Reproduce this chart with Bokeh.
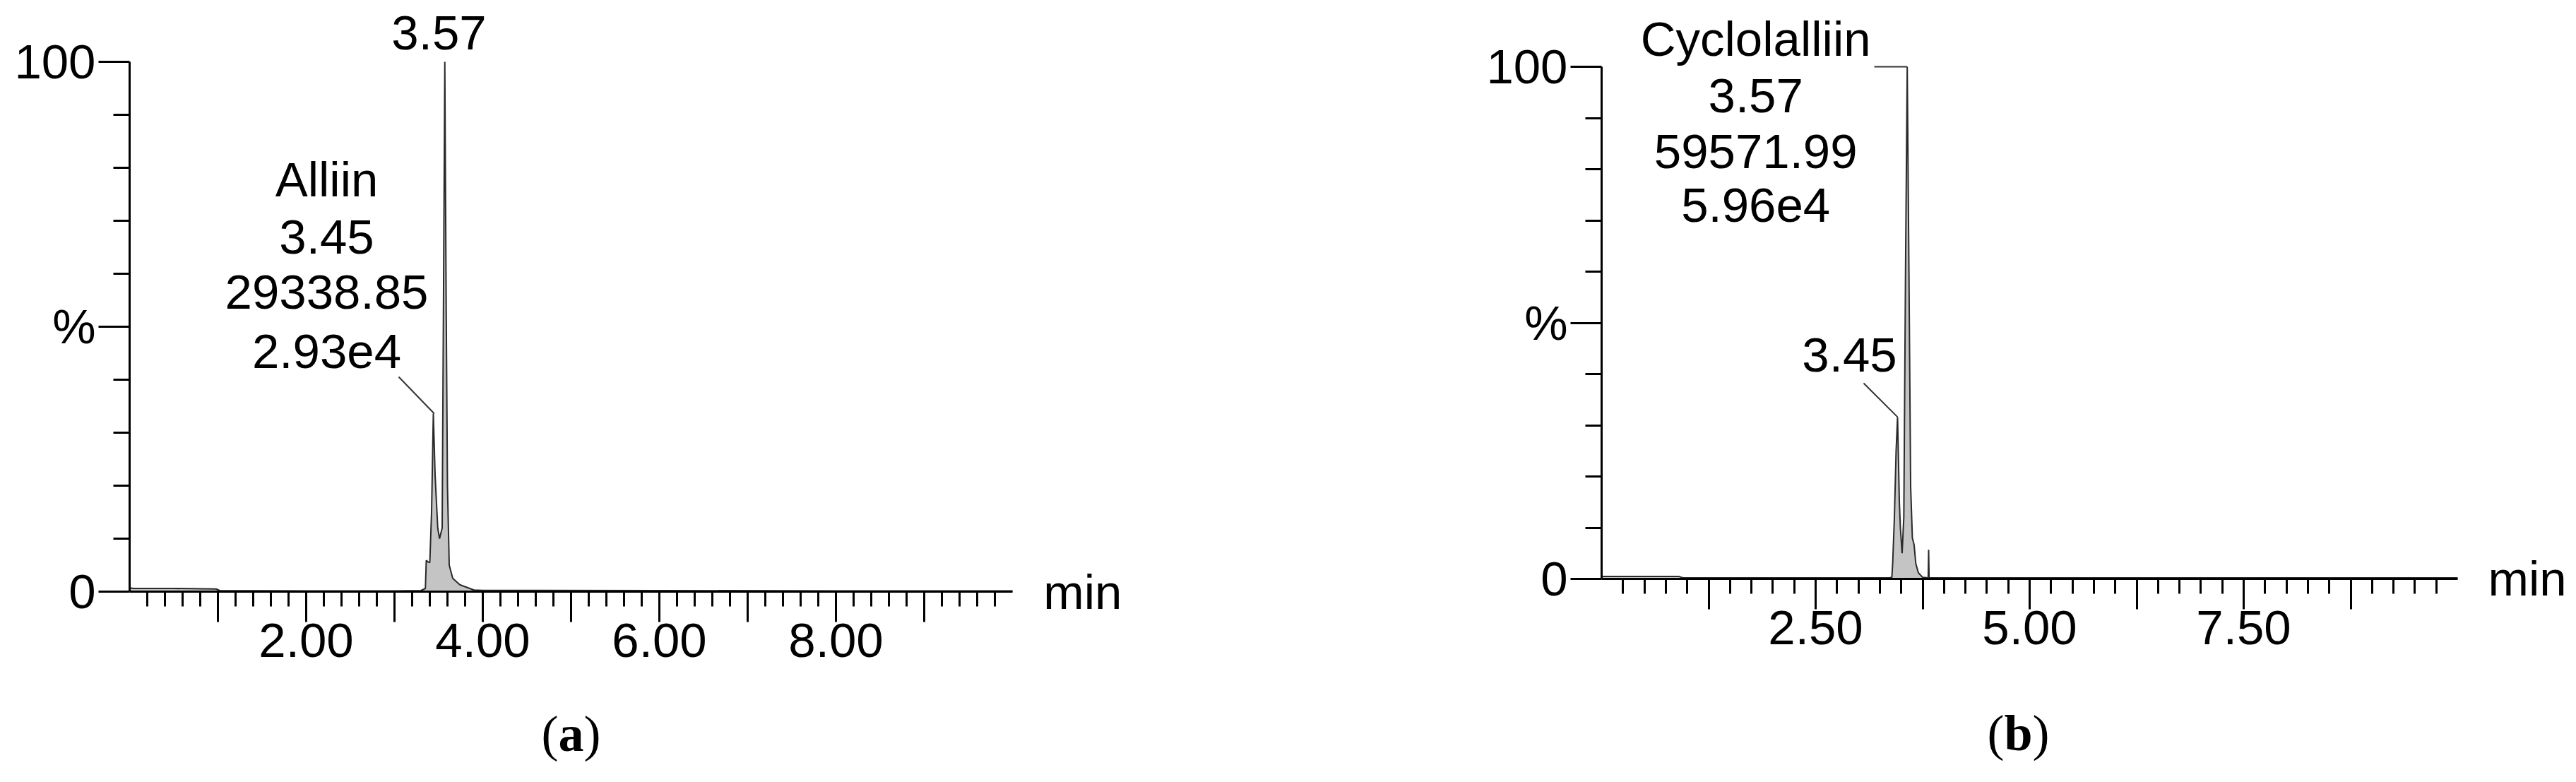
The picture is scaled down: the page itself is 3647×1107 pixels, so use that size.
from bokeh.plotting import figure
from bokeh.models import FixedTicker, Label
from bokeh.layouts import row
from bokeh.embed import file_html
from bokeh.resources import INLINE

SANS = "Liberation Sans"
SERIF = "Liberation Serif"
FS = "69px"

# ---------------- data ----------------
# Panel (a): relative intensity (%) vs retention time (min)
time_a = [0.00, 0.05, 0.50, 0.98, 1.02, 2.00, 3.00, 3.30, 3.35, 3.36, 3.38, 3.40, 3.42,
          3.44, 3.46, 3.49, 3.51, 3.54, 3.555, 3.57, 3.585, 3.60, 3.62, 3.66, 3.74,
          3.90, 4.00, 6.00, 8.00, 10.00]
int_a = [0.7, 0.6, 0.6, 0.5, 0.2, 0.15, 0.15, 0.2, 0.6, 5.9, 5.6, 5.5, 15,
         33.6, 22, 12, 10, 12, 55, 100, 55, 20, 5, 2.5, 1.3,
         0.3, 0.25, 0.2, 0.15, 0.15]

# Panel (b)
time_b = [0.00, 0.90, 0.95, 2.00, 3.36, 3.39, 3.40, 3.42, 3.44, 3.457, 3.478, 3.49, 3.51,
          3.53, 3.55, 3.57, 3.59, 3.61, 3.63, 3.65, 3.67, 3.70, 3.75, 3.815, 3.82,
          3.825, 4.00, 10.00]
int_b = [0.5, 0.5, 0.2, 0.2, 0.2, 0.3, 3, 12, 25, 31.6, 15, 10, 5,
         12, 60, 100, 60, 18, 8, 6.7, 3, 1.2, 0.3, 0.2, 5.7,
         0.2, 0.2, 0.2]

# axis tick labels
x_labels_a = {2: "2.00", 4: "4.00", 6: "6.00", 8: "8.00"}
x_labels_b = {2.5: "2.50", 5.0: "5.00", 7.5: "7.50"}
y_labels = {0: "0", 50: "%", 100: "100"}

# peak annotations
ann_a_lines = ["Alliin", "3.45", "29338.85", "2.93e4"]
ann_a_top = "3.57"
ann_b_lines = ["Cyclolalliin", "3.57", "59571.99", "5.96e4"]
ann_b_side = "3.45"
captions = ["a", "b"]


def style_axes(p, major_x, minor_x, xlabels):
    xa = p.xaxis[0]
    ya = p.yaxis[0]
    xa.fixed_location = 0
    ya.fixed_location = 0
    xa.ticker = FixedTicker(ticks=major_x, minor_ticks=minor_x)
    xa.major_label_overrides = {t: xlabels.get(t, "") for t in major_x}
    xa.bounds = (0, 10)
    ya.ticker = FixedTicker(ticks=[0, 50, 100], minor_ticks=[10, 20, 30, 40, 60, 70, 80, 90])
    ya.major_label_overrides = {k: v for k, v in y_labels.items()}
    ya.bounds = (0, 100)
    for ax in (xa, ya):
        ax.axis_line_color = "black"
        ax.axis_line_width = 3
        ax.major_tick_line_color = "black"
        ax.minor_tick_line_color = "black"
        ax.major_tick_line_width = 3
        ax.minor_tick_line_width = 3
        ax.major_tick_in = 0
        ax.minor_tick_in = 0
        ax.major_label_text_font = SANS
        ax.major_label_text_font_size = FS
        ax.major_label_text_color = "black"
    xa.major_tick_out = 43
    xa.minor_tick_out = 21
    xa.major_label_standoff = 2
    ya.major_tick_out = 44
    ya.minor_tick_out = 23
    ya.major_label_standoff = 4
    ya.major_label_orientation = "horizontal"
    p.xgrid.visible = False
    p.ygrid.visible = False
    p.outline_line_color = None
    p.min_border = 0
    p.min_border_left = 0
    p.min_border_right = 0
    p.min_border_top = 0
    p.min_border_bottom = 0


def lab(p, x, y, text, align="center", size=FS, font=SANS, style="normal", xoff=0):
    p.add_layout(Label(x=x, y=y, text=text, text_align=align, text_baseline="middle",
                       text_font=font, text_font_size=size, text_font_style=style,
                       text_color="black", x_offset=xoff))


# ---------------- panel (a) ----------------
# page pixels: 0 min at x=183, 125 px/min; 0 % at y=837, 7.5 px per %
pa = figure(width=1958, height=1107, output_backend="svg", toolbar_location=None,
            x_range=((0 - 183) / 125, (1958 - 183) / 125),
            y_range=((837 - 1107) / 7.5, 837 / 7.5),
            background_fill_color="white", border_fill_color="white")
major_a = [1, 2, 3, 4, 5, 6, 7, 8, 9]
minor_a = [round(0.2 * i, 1) for i in range(1, 50) if i % 5 != 0]
style_axes(pa, major_a, minor_a, x_labels_a)
pa.varea(x=time_a, y1=[0] * len(time_a), y2=int_a, fill_color="#c4c4c4")
pa.line(time_a, int_a, line_color="#2a2a2a", line_width=2)
pa.line([3.048, 3.45], [40.53, 33.6], line_color="#333333", line_width=2)
for txt, yc in zip(ann_a_lines, [77.8, 66.93, 56.47, 45.4]):
    lab(pa, 2.232, yc, txt)
lab(pa, 3.504, 105.47, ann_a_top)
lab(pa, 10.35, -0.15, "min", align="left")
lab(pa, 5.0, -26.8, captions[0], size="72px", font=SERIF, style="bold")
lab(pa, 5.0, -26.8, "(", align="right", size="72px", font=SERIF, xoff=-18)
lab(pa, 5.0, -26.8, ")", align="left", size="72px", font=SERIF, xoff=18)

# ---------------- panel (b) ----------------
# page pixels: 0 min at x=2267, 121.2 px/min; 0 % at y=819, 7.25 px per %
pb = figure(width=1689, height=1107, output_backend="svg", toolbar_location=None,
            x_range=((1958 - 2267) / 121.2, (3647 - 2267) / 121.2),
            y_range=((819 - 1107) / 7.25, 819 / 7.25),
            background_fill_color="white", border_fill_color="white")
major_b = [1.25, 2.5, 3.75, 5.0, 6.25, 7.5, 8.75]
minor_b = [0.25 * i for i in range(1, 40) if i % 5 != 0]
style_axes(pb, major_b, minor_b, x_labels_b)
pb.varea(x=time_b, y1=[0] * len(time_b), y2=int_b, fill_color="#c4c4c4")
pb.line(time_b, int_b, line_color="#2a2a2a", line_width=2)
pb.line([3.185, 3.57], [100, 100], line_color="#333333", line_width=2)
pb.line([3.061, 3.457], [38.2, 31.6], line_color="#333333", line_width=2)
for txt, yc in zip(ann_b_lines, [105.38, 94.28, 83.45, 72.9]):
    lab(pb, 1.80, yc, txt)
lab(pb, 2.896, 43.79, ann_b_side)
lab(pb, 10.355, 0.0, "min", align="left")
lab(pb, 4.868, -30.14, captions[1], size="72px", font=SERIF, style="bold")
lab(pb, 4.868, -30.14, "(", align="right", size="72px", font=SERIF, xoff=-20)
lab(pb, 4.868, -30.14, ")", align="left", size="72px", font=SERIF, xoff=20)

layout = row(pa, pb)
open("out.html", "w").write(file_html(layout, INLINE))
